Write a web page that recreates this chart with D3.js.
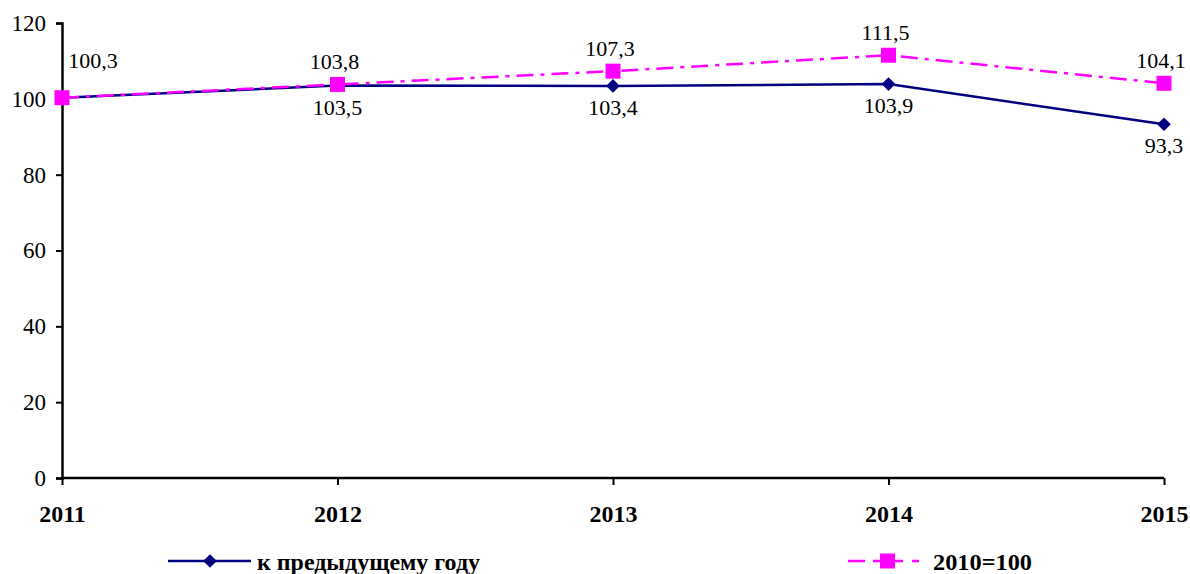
<!DOCTYPE html>
<html>
<head>
<meta charset="utf-8">
<script src="https://cdn.jsdelivr.net/npm/d3@7"></script>
<style>
  body { margin: 0; background: #fff; }
  text { font-family: "Liberation Serif", "Times New Roman", serif; fill: #000; }
</style>
</head>
<body>
<svg id="chart" width="1190" height="574"></svg>
<script>
var years = ["2011", "2012", "2013", "2014", "2015"];
var prevYear = [100.3, 103.5, 103.4, 103.9, 93.3];
var base2010 = [100.3, 103.8, 107.3, 111.5, 104.1];
var yTicks = [0, 20, 40, 60, 80, 100, 120];
var seriesNames = ["к предыдущему году", "2010=100"];

var svg = d3.select("#chart");
var plotL = 62, plotR = 1164, plotT = 23, plotB = 478;

var x = d3.scalePoint().domain(years).range([plotL, plotR]);
var y = d3.scaleLinear().domain([0, 120]).range([plotB, plotT]);

var fmt = function(v) { return d3.format(".1f")(v).replace(".", ","); };

// axes
var yAxis = svg.append("g")
  .attr("transform", "translate(" + plotL + ",0)")
  .call(d3.axisLeft(y).tickValues(yTicks).tickSize(6).tickPadding(10));
yAxis.select(".domain").attr("stroke", "#000").attr("stroke-width", 2.5);
yAxis.selectAll(".tick line").attr("stroke", "#000").attr("stroke-width", 2);
yAxis.selectAll(".tick text").style("font-size", "23px").style("font-family", "Liberation Serif");

var xAxis = svg.append("g")
  .attr("transform", "translate(0," + plotB + ")")
  .call(d3.axisBottom(x).tickSize(7).tickPadding(20));
xAxis.select(".domain").attr("stroke", "#000").attr("stroke-width", 2.5).attr("d", "M" + plotL + ",0H" + plotR);
xAxis.selectAll(".tick line").attr("stroke", "#000").attr("stroke-width", 2);
xAxis.selectAll(".tick text").style("font-size", "24px").style("font-weight", "bold").style("font-family", "Liberation Serif");

var line = d3.line().x(function(d, i) { return x(years[i]); }).y(function(d) { return y(d); });

// series 1: navy, diamonds
svg.append("path").datum(prevYear).attr("d", line)
  .attr("fill", "none").attr("stroke", "#000080").attr("stroke-width", 2.5);
svg.selectAll(".dia").data(prevYear).enter().append("path")
  .attr("d", d3.symbol(d3.symbolDiamond2, 120))
  .attr("transform", function(d, i) { return "translate(" + x(years[i]) + "," + y(d) + ")"; })
  .attr("fill", "#000080");

// series 2: magenta dash-dot, squares
svg.append("path").datum(base2010).attr("d", line)
  .attr("fill", "none").attr("stroke", "#ff00ff").attr("stroke-width", 2.5)
  .attr("stroke-dasharray", "17,7,4,7");
svg.selectAll(".sq").data(base2010).enter().append("rect")
  .attr("x", function(d, i) { return x(years[i]) - 7.5; })
  .attr("y", function(d) { return y(d) - 7.5; })
  .attr("width", 15).attr("height", 15)
  .attr("fill", "#ff00ff");

// labels
svg.selectAll(".lb2").data(base2010).enter().append("text")
  .attr("x", function(d, i) { return i === 0 ? x(years[i]) + 31 : x(years[i]) - 3; })
  .attr("y", function(d, i) { return i === 0 ? y(d) - 30 : y(d) - 15; })
  .attr("text-anchor", "middle").style("font-size", "22px")
  .text(function(d) { return fmt(d); });
svg.selectAll(".lb1").data(prevYear.slice(1)).enter().append("text")
  .attr("x", function(d, i) { return x(years[i + 1]); })
  .attr("y", function(d) { return y(d) + 29; })
  .attr("text-anchor", "middle").style("font-size", "22px")
  .text(function(d) { return fmt(d); });

// legend
var lg = svg.append("g");
lg.append("line").attr("x1", 168).attr("x2", 251).attr("y1", 561).attr("y2", 561)
  .attr("stroke", "#000080").attr("stroke-width", 2.5);
lg.append("path").attr("d", d3.symbol(d3.symbolDiamond2, 120))
  .attr("transform", "translate(210,561)").attr("fill", "#000080");
lg.append("text").attr("x", 257).attr("y", 570).style("font-size", "24px").style("font-weight", "bold")
  .attr("textLength", 223).attr("lengthAdjust", "spacingAndGlyphs")
  .text(seriesNames[0]);

lg.append("line").attr("x1", 848).attr("x2", 925).attr("y1", 561).attr("y2", 561)
  .attr("stroke", "#ff00ff").attr("stroke-width", 2.5).attr("stroke-dasharray", "17,8,30,9,7");
lg.append("rect").attr("x", 880).attr("y", 553.5).attr("width", 15).attr("height", 15).attr("fill", "#ff00ff");
lg.append("text").attr("x", 933).attr("y", 570).style("font-size", "24px").style("font-weight", "bold")
  .attr("textLength", 99).attr("lengthAdjust", "spacingAndGlyphs")
  .text(seriesNames[1]);
</script>
</body>
</html>
